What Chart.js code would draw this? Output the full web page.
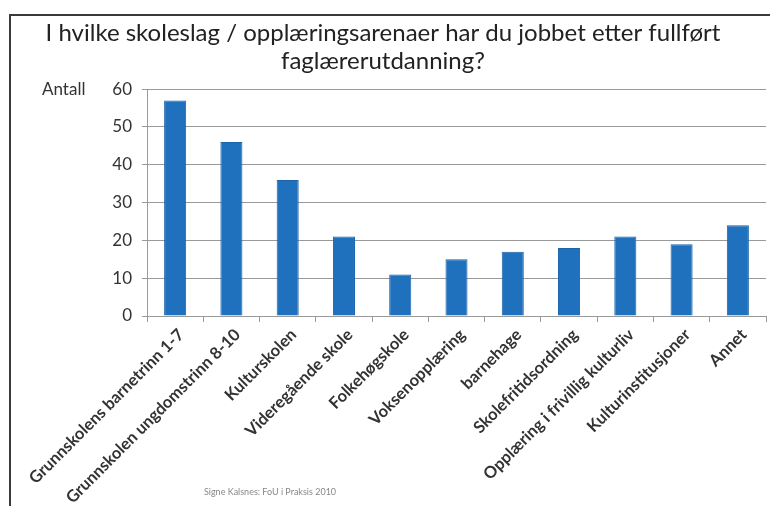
<!DOCTYPE html>
<html>
<head>
<meta charset="utf-8">
<script src="https://cdn.jsdelivr.net/npm/chart.js@4"></script>
<style>
  html, body { margin: 0; padding: 0; background: #fff; }
  #wrap { width: 770px; height: 506px; position: relative; }
</style>
</head>
<body>
<div id="wrap"><canvas id="chart" width="770" height="506"></canvas></div>
<script>
// skoleslag / opplæringsarenaer
const kategorier = ['Grunnskolens barnetrinn 1-7', 'Grunnskolen ungdomstrinn 8-10', 'Kulturskolen',
    'Videregående skole', 'Folkehøgskole', 'Voksenopplæring', 'barnehage', 'Skolefritidsordning',
    'Opplæring i frivillig kulturliv', 'Kulturinstitusjoner', 'Annet'];
const antall = [57, 46, 36, 21, 11, 15, 17, 18, 21, 19, 24];
const yTicks = [0, 10, 20, 30, 40, 50, 60];

const tittel = ['I hvilke skoleslag / opplæringsarenaer har du jobbet etter fullført', 'faglærerutdanning?'];
const aksetittel = 'Antall';
const kilde = 'Signe Kalsnes: FoU i Praksis 2010';

const fontFam = 'Lato, "Open Sans", sans-serif';

// ramme, aksetittel og kildehenvisning
const ekstra = {
    id: 'ekstra',
    afterDraw(chart) {
        const c = chart.ctx;
        const a = chart.chartArea;
        c.save();
        c.strokeStyle = '#3a3a3a';
        c.lineWidth = 2;
        c.beginPath();
        c.moveTo(10, 506);
        c.lineTo(10, 15);
        c.lineTo(770, 15);
        c.stroke();

        c.fillStyle = '#333';
        c.font = '17px ' + fontFam;
        c.textAlign = 'left';
        c.textBaseline = 'middle';
        c.fillText(aksetittel, 42, a.top);

        c.fillStyle = '#888';
        c.font = '9px ' + fontFam;
        c.textAlign = 'center';
        c.fillText(kilde, 270, 492);
        c.restore();
    }
};

const ctx = document.getElementById('chart').getContext('2d');
const myChart = new Chart(ctx, {
    type: 'bar',
    data: {
        labels: kategorier,
        datasets: [{
            label: aksetittel,
            data: antall,
            backgroundColor: '#1f71bd',
            borderColor: '#1a64a9',
            borderWidth: 1,
            categoryPercentage: 0.8,
            barPercentage: 0.49
        }]
    },
    options: {
        responsive: false,
        animation: false,
        layout: {
            padding: { left: 0, right: 4, top: 0, bottom: 0 }
        },
        plugins: {
            legend: { display: false },
            tooltip: { enabled: false },
            title: {
                display: true,
                text: tittel,
                color: '#222',
                font: { family: fontFam, size: 24, weight: 'normal', lineHeight: 1.17 },
                padding: { top: 19, bottom: 14 }
            }
        },
        scales: {
            x: {
                grid: {
                    drawOnChartArea: false,
                    drawTicks: true,
                    tickLength: 6,
                    color: '#999'
                },
                border: { display: true, color: '#999' },
                ticks: {
                    autoSkip: false,
                    minRotation: 45,
                    maxRotation: 45,
                    labelOffset: 6,
                    color: '#333',
                    font: { family: fontFam, size: 16.5, weight: 'bold' }
                },
                afterFit(scale) { scale.height = 190; }
            },
            y: {
                min: 0,
                max: 60,
                afterBuildTicks(scale) {
                    scale.ticks = yTicks.map(v => ({ value: v }));
                },
                grid: {
                    color: '#9a9a9a',
                    tickLength: 5
                },
                border: { display: true, color: '#999' },
                ticks: {
                    color: '#333',
                    padding: 10,
                    font: { family: fontFam, size: 17 }
                },
                afterFit(scale) { scale.width = 147; }
            }
        }
    },
    plugins: [ekstra]
});
</script>
</body>
</html>
